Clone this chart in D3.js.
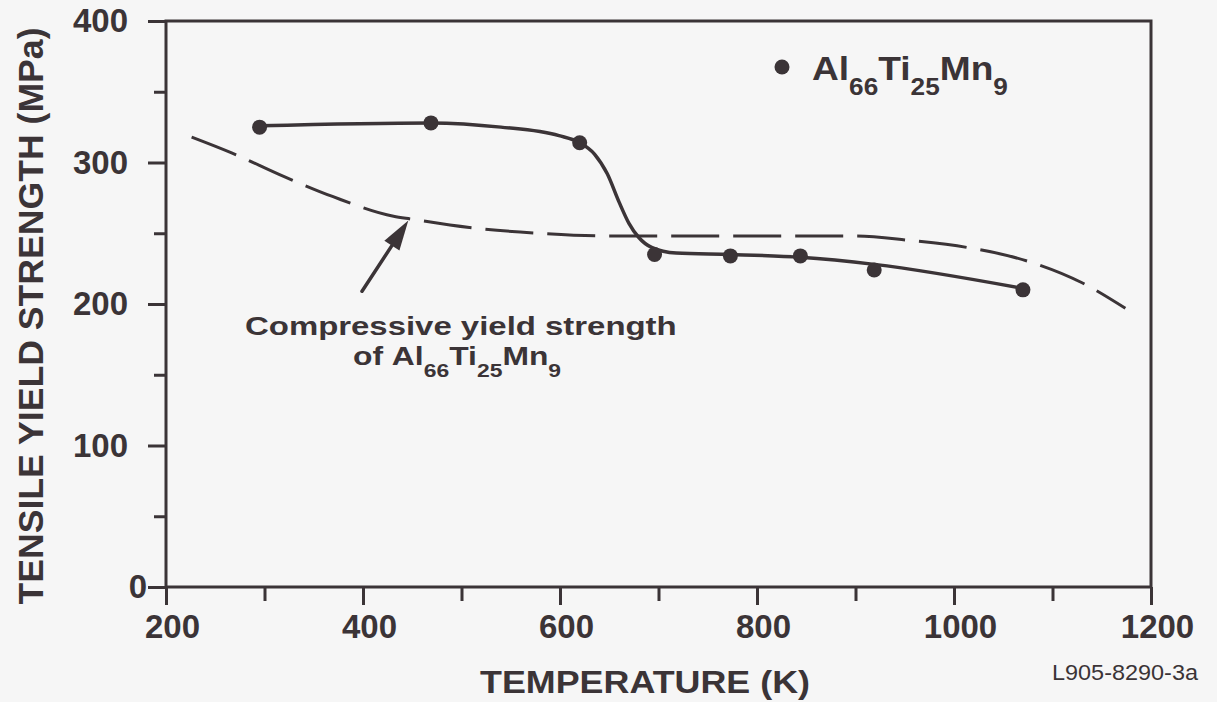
<!DOCTYPE html>
<html><head><meta charset="utf-8">
<script src="https://cdn.jsdelivr.net/npm/d3@7"></script>
<style>
html,body{margin:0;padding:0;background:#f6f6f6;}
svg{display:block;}
text{font-family:"Liberation Sans", Arial, Helvetica, sans-serif; font-weight:bold; fill:#3b3437;}
</style></head><body>
<svg id="chart" width="1217" height="702"></svg>
<script>
// ---- data ----
const tempMeasured = [295, 469, 620, 696, 773, 844, 919, 1070];
const tensileYield = [325, 328, 314, 235, 234, 234, 224, 210];

// hand-drawn fit through the tensile data
const fitTemp  = [295, 469, 540, 599, 620, 635, 648, 660, 670, 680, 693, 718, 773, 844, 919, 1070];
const fitYield = [326, 328, 325, 319, 314, 306, 292, 272, 257, 247, 240, 236, 235, 233, 228, 211];

// compressive yield strength (dashed)
const compTemp  = [226, 266, 320, 369, 431, 449, 508, 579, 653, 741, 824, 900, 954, 1013, 1076, 1130, 1174];
const compYield = [318, 307, 290, 276, 262, 260, 254, 250, 248, 248, 248, 248, 245, 240, 230, 215, 197];

const xTickValues = [200, 400, 600, 800, 1000, 1200];
const xTickLabels = ["200", "400", "600", "800", "1000", "1200"];
const xMinorTicks = [300, 500, 700, 900, 1100];
const yTickValues = [0, 100, 200, 300, 400];
const yTickLabels = ["0", "100", "200", "300", "400"];
const yMinorTicks = [50, 150, 250, 350];

const formula = [["Al", "66"], ["Ti", "25"], ["Mn", "9"]];

// ---- drawing ----
const INK = "#3b3437";
const svg = d3.select("#chart");
const x = d3.scaleLinear().domain([200, 1200]).range([166, 1151]);
const y = d3.scaleLinear().domain([0, 400]).range([587, 21]);

// frame
svg.append("rect")
  .attr("x", x(200)).attr("y", y(400))
  .attr("width", x(1200) - x(200)).attr("height", y(0) - y(400))
  .attr("fill", "none").attr("stroke", INK).attr("stroke-width", 3);

function styleAxis(g) {
  g.select(".domain").remove();
  g.selectAll(".tick line").attr("stroke", INK).attr("stroke-width", 3);
  g.selectAll(".tick text").attr("fill", INK).style("font-size", "33px");
}
function minorAxis(g) {
  g.select(".domain").remove();
  g.selectAll(".tick text").remove();
  g.selectAll(".tick line").attr("stroke", INK).attr("stroke-width", 3);
}

// x axis
const gx = svg.append("g").attr("transform", `translate(0,${y(0)})`)
  .call(d3.axisBottom(x).tickValues(xTickValues).tickSize(18).tickPadding(10)
    .tickFormat((d, i) => xTickLabels[i]));
styleAxis(gx);
gx.selectAll(".tick text").attr("dx", 6);
svg.append("g").attr("transform", `translate(0,${y(0)})`)
  .call(d3.axisBottom(x).tickValues(xMinorTicks).tickSize(14))
  .call(minorAxis);

// y axis
const gy = svg.append("g").attr("transform", `translate(${x(200)},0)`)
  .call(d3.axisLeft(y).tickValues(yTickValues).tickSize(18).tickPadding(20)
    .tickFormat((d, i) => yTickLabels[i]));
styleAxis(gy);
gy.selectAll(".tick text").filter(d => d === 0).attr("dx", 19);
svg.append("g").attr("transform", `translate(${x(200)},0)`)
  .call(d3.axisLeft(y).tickValues(yMinorTicks).tickSize(12))
  .call(minorAxis);

// dashed compressive curve
const compLine = d3.line().x(d => x(d[0])).y(d => y(d[1])).curve(d3.curveMonotoneX);
svg.append("path")
  .datum(compTemp.map((t, i) => [t, compYield[i]]))
  .attr("d", compLine)
  .attr("fill", "none").attr("stroke", INK).attr("stroke-width", 3)
  .attr("stroke-dasharray", "48,14");

// solid fit line
const fitLine = d3.line().x(d => x(d[0])).y(d => y(d[1])).curve(d3.curveMonotoneX);
svg.append("path")
  .datum(fitTemp.map((t, i) => [t, fitYield[i]]))
  .attr("d", fitLine)
  .attr("fill", "none").attr("stroke", INK).attr("stroke-width", 3.5);

// measured points
svg.append("g").selectAll("circle")
  .data(tempMeasured.map((t, i) => [t, tensileYield[i]]))
  .join("circle")
  .attr("cx", d => x(d[0])).attr("cy", d => y(d[1])).attr("r", 7.5)
  .attr("fill", INK);

// arrow annotation
const tail = [x(399), y(209)], tip = [x(446), y(259)];
const ang = Math.atan2(tip[1] - tail[1], tip[0] - tail[0]);
const headLen = 30, headW = 9;
const base = [tip[0] - headLen * Math.cos(ang), tip[1] - headLen * Math.sin(ang)];
svg.append("line")
  .attr("x1", tail[0]).attr("y1", tail[1]).attr("x2", base[0]).attr("y2", base[1])
  .attr("stroke", INK).attr("stroke-width", 3.5).attr("stroke-linecap", "round");
svg.append("path")
  .attr("d", `M${tip[0]},${tip[1]}L${base[0] + headW * Math.sin(ang)},${base[1] - headW * Math.cos(ang)}L${base[0] - headW * Math.sin(ang)},${base[1] + headW * Math.cos(ang)}Z`)
  .attr("fill", INK);

// helpers
function fitTo(sel, px, py, target) {
  const w = sel.node().getBBox().width;
  sel.attr("transform", `translate(${px},${py}) scale(${target / w},1)`);
}
function formulaText(parent, prefix, mainSize, subSize, shift) {
  const t = parent.append("text").attr("x", 0).attr("y", 0).style("font-size", mainSize + "px");
  let down = false;
  if (prefix) t.append("tspan").text(prefix);
  formula.forEach(([el, n]) => {
    t.append("tspan").attr("dy", down ? -shift : 0).text(el);
    t.append("tspan").style("font-size", subSize + "px").attr("dy", shift).text(n);
    down = true;
  });
  return t;
}

// legend
svg.append("circle").attr("cx", 782).attr("cy", 67).attr("r", 7.5).attr("fill", INK);
fitTo(formulaText(svg, "", 34, 24, 15), 812, 80, 196);

// annotation text
const ann1 = svg.append("text").style("font-size", "25px").text("Compressive yield strength");
fitTo(ann1, 245, 335, 432);
fitTo(formulaText(svg, "of ", 25, 18, 12), 353, 365, 207);

// axis titles
svg.append("text").attr("x", 0).attr("y", 0)
  .attr("transform", "translate(43,316) rotate(-90)")
  .attr("text-anchor", "middle").style("font-size", "35px")
  .attr("textLength", 577).attr("lengthAdjust", "spacingAndGlyphs")
  .text("TENSILE YIELD STRENGTH (MPa)");
svg.append("text").attr("x", 480).attr("y", 693)
  .style("font-size", "32px")
  .attr("textLength", 330).attr("lengthAdjust", "spacingAndGlyphs")
  .text("TEMPERATURE (K)");

// figure id
svg.append("text").attr("x", 1052).attr("y", 680)
  .style("font-size", "22px").style("font-weight", "normal")
  .attr("textLength", 146).attr("lengthAdjust", "spacingAndGlyphs")
  .text("L905-8290-3a");
</script>
</body></html>
